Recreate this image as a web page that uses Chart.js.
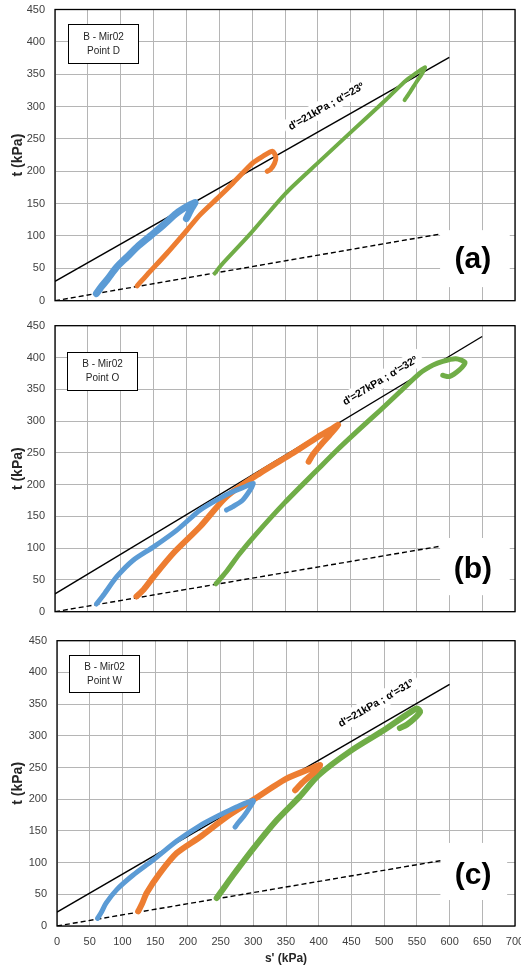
<!DOCTYPE html>
<html>
<head>
<meta charset="utf-8">
<script src="https://cdn.jsdelivr.net/npm/chart.js@4.4.1/dist/chart.umd.min.js"></script>
<style>
    html, body { margin: 0; padding: 0; background: #fff; }
    body { width: 521px; height: 966px; position: relative; overflow: hidden; }
    canvas { position: absolute; left: 0; }
</style>
</head>
<body>
<canvas id="chartA" width="521" height="312" style="top:0px"></canvas>
<canvas id="chartB" width="521" height="314" style="top:312px"></canvas>
<canvas id="chartC" width="521" height="340" style="top:626px"></canvas>
<script>
// ejes
const sTicks = [0, 700, 50];   // min, max, paso
const tTicks = [0, 450, 50];

// (a) Point D  -> [s', t]
const blueA = [[63,11],[70,21],[79,32],[94,52],[110,68],[125,83],[145,100],[165,117],[185,135],[200,145],[213,152],[208,143],[203,133],[200,127]];
const orangeA = [[125,23],[140,40],[170,73],[200,108],[221,133],[250,161],[271,182],[301,213],[316,223],[331,231],[336,222],[334,212],[328,203],[323,200]];
const greenA = [[243,42],[253,55],[296,102],[351,166],[400,213],[454,264],[504,311],[535,341],[550,352],[563,361],[558,350],[550,338],[540,322],[532,310]];
const envA = [[0,30],[600,376]];

// (b) Point O
const blueB = [[63,12],[75,28],[94,55],[119,81],[150,102],[185,128],[221,160],[250,178],[271,189],[290,197],[302,202],[296,190],[285,175],[270,165],[261,160]];
const orangeB = [[124,24],[135,35],[150,55],[180,92],[221,134],[261,181],[312,218],[363,250],[400,275],[420,287],[431,294],[418,278],[405,263],[393,248],[386,236]];
const greenB = [[245,44],[260,62],[280,90],[305,121],[350,172],[400,224],[429,254],[460,284],[495,317],[525,346],[555,375],[575,388],[590,394],[610,398],[624,392],[615,380],[600,370],[590,372]];
const envB = [[0,28],[650,433]];

// (c) Point W
const blueC = [[62,12],[68,22],[75,36],[91,57],[116,80],[147,104],[183,134],[218,158],[249,175],[275,188],[300,198],[294,186],[286,174],[278,164],[272,156]];
const orangeC = [[124,23],[130,35],[137,52],[157,83],[183,115],[218,140],[259,172],[300,199],[350,232],[387,248],[402,254],[395,244],[385,235],[373,224],[364,214]];
const greenC = [[244,44],[255,60],[269,80],[300,122],[336,167],[371,204],[400,238],[450,277],[500,309],[534,333],[550,343],[555,338],[546,327],[535,318],[524,312]];
const envC = [[0,22],[600,381]];

// linea K0 (discontinua), igual en los tres
const k0Line = [[0,0],[586,103]];

const envLabels = ["d'=21kPa ; α'=23º", "d'=27kPa ; α'=32º", "d'=21kPa ; α'=31º"];
const infoLabels = [['B - Mir02', 'Point D'], ['B - Mir02', 'Point O'], ['B - Mir02', 'Point W']];
const panelLetters = ['(a)', '(b)', '(c)'];

const FONT = 'Liberation Sans';
const BLUE = '#5b9bd5', ORANGE = '#ed7d31', GREEN = '#70ad47';

const paneles = [
    { id: 'chartA', padTop: 9.5, padBottom: 11.3, yWidth: 55, showX: false,
      series: [blueA, orangeA, greenA], env: envA, widths: [7, 5, 4],
      envAt: [413, 300], infoBox: [20, 427, 126, 368], letterBox: [586, 109, 692, 21], letterAt: [636, 63] },
    { id: 'chartB', padTop: 13.7, padBottom: 14.3, yWidth: 55, showX: false,
      series: [blueB, orangeB, greenB], env: envB, widths: [5, 6, 5],
      envAt: [495, 363], infoBox: [19, 408, 125, 349], letterBox: [586, 116, 692, 26], letterAt: [636, 66] },
    { id: 'chartC', padTop: 14.7, padBottom: 0, yWidth: 57, showX: true,
      series: [blueC, orangeC, greenC], env: envC, widths: [5, 6, 6],
      envAt: [488, 351], infoBox: [18, 428, 125, 369], letterBox: [586, 131, 688, 41], letterAt: [636, 80] }
];

const aXY = arr => arr.map(p => ({ x: p[0], y: p[1] }));

function decoraciones(p, i) {
    return {
        id: 'deco' + i,
        beforeDatasetsDraw(chart) {
            const { ctx, scales: { x, y } } = chart;
            ctx.save();
            // caja blanca de la letra
            const lx0 = x.getPixelForValue(p.letterBox[0]), ly0 = y.getPixelForValue(p.letterBox[1]);
            const lx1 = x.getPixelForValue(p.letterBox[2]), ly1 = y.getPixelForValue(p.letterBox[3]);
            ctx.fillStyle = '#fff';
            ctx.fillRect(lx0, ly0, lx1 - lx0, ly1 - ly0);
            ctx.fillStyle = '#000';
            ctx.font = 'bold 30px "' + FONT + '"';
            ctx.textAlign = 'center';
            ctx.textBaseline = 'middle';
            ctx.fillText(panelLetters[i], x.getPixelForValue(p.letterAt[0]), y.getPixelForValue(p.letterAt[1]));

            // etiqueta de la envolvente, girada segun la recta
            const ex0 = x.getPixelForValue(p.env[0][0]), ey0 = y.getPixelForValue(p.env[0][1]);
            const ex1 = x.getPixelForValue(p.env[1][0]), ey1 = y.getPixelForValue(p.env[1][1]);
            const ang = Math.atan2(ey1 - ey0, ex1 - ex0);
            ctx.translate(x.getPixelForValue(p.envAt[0]), y.getPixelForValue(p.envAt[1]));
            ctx.rotate(ang);
            ctx.font = 'bold 10.5px "' + FONT + '"';
            const w = ctx.measureText(envLabels[i]).width;
            ctx.fillStyle = '#fff';
            ctx.fillRect(-w / 2 - 5, -9, w + 10, 17);
            ctx.fillStyle = '#000';
            ctx.fillText(envLabels[i], 0, 0);
            ctx.restore();
        },
        afterDraw(chart) {
            const { ctx, chartArea: a, scales: { x, y } } = chart;
            ctx.save();
            // marco
            ctx.strokeStyle = '#000';
            ctx.lineWidth = 1.3;
            ctx.strokeRect(a.left, a.top, a.right - a.left, a.bottom - a.top);
            // cuadro de texto
            const bx0 = Math.round(x.getPixelForValue(p.infoBox[0])) + 0.5, by0 = Math.round(y.getPixelForValue(p.infoBox[1])) + 0.5;
            const bx1 = Math.round(x.getPixelForValue(p.infoBox[2])) + 0.5, by1 = Math.round(y.getPixelForValue(p.infoBox[3])) + 0.5;
            ctx.fillStyle = '#fff';
            ctx.fillRect(bx0, by0, bx1 - bx0, by1 - by0);
            ctx.lineWidth = 1;
            ctx.strokeRect(bx0, by0, bx1 - bx0, by1 - by0);
            ctx.fillStyle = '#262626';
            ctx.font = '10px "' + FONT + '"';
            ctx.textAlign = 'center';
            ctx.textBaseline = 'middle';
            const cx = (bx0 + bx1) / 2, cy = (by0 + by1) / 2;
            ctx.fillText(infoLabels[i][0], cx, cy - 7);
            ctx.fillText(infoLabels[i][1], cx, cy + 7);
            ctx.restore();
        }
    };
}

paneles.forEach((p, i) => {
    const colores = [BLUE, ORANGE, GREEN];
    const datasets = p.series.map((s, k) => ({
        data: aXY(s),
        borderColor: colores[k],
        borderWidth: p.widths[k],
        borderCapStyle: 'round',
        borderJoinStyle: 'round',
        pointRadius: 0,
        tension: 0.25,
        fill: false
    }));
    datasets.push({ data: aXY(p.env), borderColor: '#000', borderWidth: 1.4, pointRadius: 0, fill: false });
    datasets.push({ data: aXY(k0Line), borderColor: '#000', borderWidth: 1.4, borderDash: [5, 3], pointRadius: 0, fill: false });

    new Chart(document.getElementById(p.id), {
        type: 'line',
        data: { datasets: datasets },
        options: {
            responsive: false,
            animation: false,
            layout: { padding: { top: p.padTop, bottom: p.padBottom, left: 0, right: 6 } },
            plugins: { legend: { display: false }, tooltip: { enabled: false } },
            scales: {
                x: {
                    type: 'linear', min: sTicks[0], max: sTicks[1],
                    ticks: { stepSize: sTicks[2], display: p.showX, padding: 9, color: '#404040', font: { family: FONT, size: 11 } },
                    grid: { color: '#b5b5b5', drawTicks: false },
                    border: { display: false },
                    title: { display: p.showX, text: "s' (kPa)", color: '#262626', padding: 0, font: { family: FONT, size: 12, weight: 'bold' } },
                    afterFit: a => { a.height = p.showX ? 40 : 0; a.paddingLeft = 0; a.paddingRight = 0; }
                },
                y: {
                    type: 'linear', min: tTicks[0], max: tTicks[1],
                    ticks: { stepSize: tTicks[2], padding: 10, color: '#404040', font: { family: FONT, size: 11 } },
                    grid: { color: '#b5b5b5', drawTicks: false },
                    border: { display: false },
                    title: { display: true, text: 't (kPa)', color: '#262626', padding: { top: 10, bottom: 0 }, font: { family: FONT, size: 14, weight: 'bold' } },
                    afterFit: a => { a.width = p.yWidth; a.paddingTop = 0; a.paddingBottom = 0; }
                }
            }
        },
        plugins: [decoraciones(p, i)]
    });
});
</script>
</body>
</html>
